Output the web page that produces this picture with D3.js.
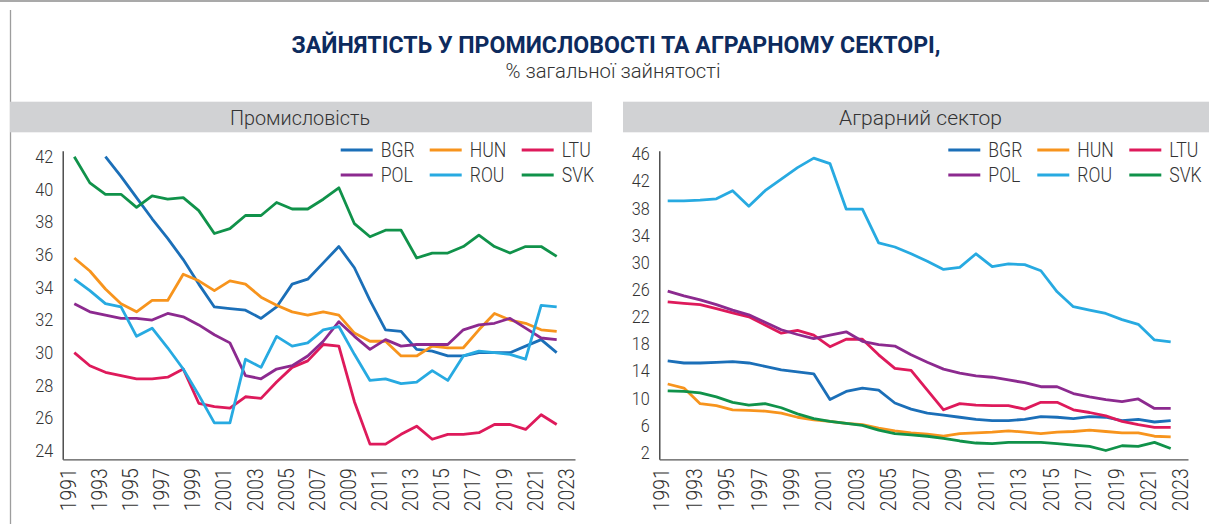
<!DOCTYPE html>
<html>
<head>
<meta charset="utf-8">
<script src="https://cdn.jsdelivr.net/npm/d3@7"></script>
<style>
  body { margin: 0; background: #fff; }
  svg { display: block; }
</style>
</head>
<body>
<svg id="chart" width="1209" height="524"></svg>
<script>
"use strict";

// data: % of total employment, 1991-2022 (axis runs to 2023)
var years = [1991, 1992, 1993, 1994, 1995, 1996, 1997, 1998, 1999, 2000, 2001, 2002, 2003, 2004, 2005, 2006,
             2007, 2008, 2009, 2010, 2011, 2012, 2013, 2014, 2015, 2016, 2017, 2018, 2019, 2020, 2021, 2022];
var tickYears = [1991, 1993, 1995, 1997, 1999, 2001, 2003, 2005, 2007, 2009, 2011, 2013, 2015, 2017, 2019, 2021, 2023];
var countries = ["BGR", "HUN", "LTU", "POL", "ROU", "SVK"];

var indBGR = [null, null, 42.0, 40.8, 39.5, 38.2, 37.0, 35.7, 34.2, 32.8, 32.7, 32.6, 32.1, 32.8, 34.2, 34.5,
              35.5, 36.5, 35.2, 33.2, 31.4, 31.3, 30.2, 30.1, 29.8, 29.8, 30.0, 30.0, 30.0, 30.4, 30.8, 30.0];
var indHUN = [35.8, 35.0, 33.9, 33.0, 32.5, 33.2, 33.2, 34.8, 34.4, 33.8, 34.4, 34.2, 33.4, 32.9, 32.5, 32.3,
              32.5, 32.3, 31.2, 30.7, 30.7, 29.8, 29.8, 30.4, 30.3, 30.3, 31.4, 32.4, 32.0, 31.8, 31.4, 31.3];
var indLTU = [30.0, 29.2, 28.8, 28.6, 28.4, 28.4, 28.5, 29.0, 26.9, 26.7, 26.6, 27.3, 27.2, 28.2, 29.1, 29.5,
              30.5, 30.4, 27.0, 24.4, 24.4, 25.0, 25.5, 24.7, 25.0, 25.0, 25.1, 25.6, 25.6, 25.3, 26.2, 25.6];
var indPOL = [33.0, 32.5, 32.3, 32.1, 32.1, 32.0, 32.4, 32.2, 31.7, 31.1, 30.6, 28.6, 28.4, 29.0, 29.2, 29.8,
              30.7, 31.9, 31.0, 30.2, 30.8, 30.4, 30.5, 30.5, 30.5, 31.4, 31.7, 31.8, 32.1, 31.5, 30.9, 30.8];
var indROU = [34.5, 33.8, 33.0, 32.8, 31.0, 31.5, 30.3, 29.0, 27.4, 25.7, 25.7, 29.6, 29.1, 31.0, 30.4, 30.6,
              31.4, 31.6, 29.9, 28.3, 28.4, 28.1, 28.2, 28.9, 28.3, 29.8, 30.1, 30.0, 29.9, 29.6, 32.9, 32.8];
var indSVK = [42.0, 40.4, 39.7, 39.7, 38.9, 39.6, 39.4, 39.5, 38.7, 37.3, 37.6, 38.4, 38.4, 39.2, 38.8, 38.8,
              39.4, 40.1, 37.9, 37.1, 37.5, 37.5, 35.8, 36.1, 36.1, 36.5, 37.2, 36.5, 36.1, 36.5, 36.5, 35.9];

var agrBGR = [15.5, 15.2, 15.2, 15.3, 15.4, 15.2, 14.7, 14.2, 13.9, 13.6, 9.8, 11.0, 11.5, 11.2, 9.3, 8.4,
              7.8, 7.5, 7.2, 6.9, 6.7, 6.7, 6.9, 7.3, 7.2, 7.0, 7.3, 7.2, 6.7, 6.9, 6.5, 6.7];
var agrHUN = [12.1, 11.5, 9.2, 8.9, 8.3, 8.2, 8.1, 7.8, 7.2, 6.8, 6.6, 6.3, 6.1, 5.6, 5.2, 4.9,
              4.7, 4.4, 4.8, 4.9, 5.0, 5.2, 5.0, 4.8, 5.0, 5.1, 5.3, 5.1, 4.9, 4.9, 4.4, 4.3];
var agrLTU = [24.2, 24.0, 23.8, 23.2, 22.6, 22.0, 20.8, 19.6, 20.0, 19.3, 17.6, 18.7, 18.7, 16.4, 14.4, 14.1,
              11.2, 8.3, 9.2, 9.0, 8.9, 8.9, 8.4, 9.4, 9.4, 8.3, 7.9, 7.4, 6.6, 6.1, 5.7, 5.7];
var agrPOL = [25.8, 25.1, 24.5, 23.8, 23.0, 22.3, 21.2, 20.1, 19.4, 18.8, 19.3, 19.8, 18.4, 17.9, 17.7, 16.4,
              15.3, 14.3, 13.7, 13.3, 13.1, 12.7, 12.3, 11.7, 11.7, 10.7, 10.2, 9.8, 9.5, 9.9, 8.5, 8.5];
var agrROU = [39.1, 39.1, 39.2, 39.4, 40.6, 38.3, 40.6, 42.3, 44.0, 45.4, 44.6, 37.9, 37.9, 32.9, 32.3, 31.3,
              30.2, 29.0, 29.3, 31.3, 29.4, 29.8, 29.7, 28.8, 25.7, 23.5, 23.0, 22.5, 21.6, 20.9, 18.6, 18.3];
var agrSVK = [11.1, 11.0, 10.8, 10.2, 9.4, 9.0, 9.2, 8.6, 7.7, 7.0, 6.6, 6.3, 6.0, 5.3, 4.8, 4.6,
              4.4, 4.1, 3.7, 3.4, 3.3, 3.5, 3.5, 3.5, 3.3, 3.1, 2.9, 2.3, 3.0, 2.9, 3.5, 2.6];

var indTicks = [24, 26, 28, 30, 32, 34, 36, 38, 40, 42];
var agrTicks = [2, 6, 10, 14, 18, 22, 26, 30, 34, 38, 42, 46];

var colors = ["#1b6fb8", "#f7941d", "#de1a5b", "#8c2a8f", "#27aae1", "#10924a"];
var font = "Roboto, 'Liberation Sans', sans-serif";

var panels = [
  { label: "Промисловість", series: [indBGR, indHUN, indLTU, indPOL, indROU, indSVK],
    bar: [10, 592], labelX: 300, labelW: 140, axisX: 62.7, axisEnd: 575, firstX: 74.3, lastX: 556.7,
    yDomain: [23.47, 42.37], yTicks: indTicks, legendX: 340.7 },
  { label: "Аграрний сектор", series: [agrBGR, agrHUN, agrLTU, agrPOL, agrROU, agrSVK],
    bar: [623, 1209], labelX: 920.5, labelW: 163, axisX: 659.3, axisEnd: 1188, firstX: 667.7, lastX: 1170.7,
    yDomain: [1, 46.5], yTicks: agrTicks, legendX: 948.3 }
];

var yTop = 150.7, yBottom = 459.3;

// squeeze glyphs horizontally to get the condensed look of the original
function condense(sel, k) {
  sel.each(function () {
    var w = this.getComputedTextLength();
    d3.select(this).attr("textLength", w * k).attr("lengthAdjust", "spacingAndGlyphs");
  });
}

var svg = d3.select("#chart");

// frame
svg.append("rect").attr("x", 0).attr("y", 0).attr("width", 1209).attr("height", 2).attr("fill", "#a9a9a9");
svg.append("line").attr("x1", 10.5).attr("x2", 10.5).attr("y1", 10).attr("y2", 524)
  .attr("stroke", "#9d9d9d").attr("stroke-width", 1.3);

// title
svg.append("text").attr("x", 616).attr("y", 53).attr("text-anchor", "middle")
  .attr("font-family", font).attr("font-weight", "bold").attr("font-size", 24.5)
  .attr("fill", "#0d2b5e").attr("textLength", 649).attr("lengthAdjust", "spacingAndGlyphs")
  .text("ЗАЙНЯТІСТЬ У ПРОМИСЛОВОСТІ ТА АГРАРНОМУ СЕКТОРІ,");
svg.append("text").attr("x", 613).attr("y", 77.5).attr("text-anchor", "middle")
  .attr("font-family", font).attr("font-weight", 300).attr("font-size", 20).attr("fill", "#333")
  .attr("textLength", 215).attr("lengthAdjust", "spacingAndGlyphs")
  .text("% загальної зайнятості");

panels.forEach(function (p) {
  var g = svg.append("g");

  g.append("rect").attr("x", p.bar[0]).attr("y", 101.7).attr("width", p.bar[1] - p.bar[0])
    .attr("height", 30.6).attr("fill", "#d1d2d4");
  g.append("text").attr("x", p.labelX).attr("y", 125).attr("text-anchor", "middle")
    .attr("font-family", font).attr("font-weight", 300).attr("font-size", 21).attr("fill", "#333")
    .attr("textLength", p.labelW).attr("lengthAdjust", "spacingAndGlyphs")
    .text(p.label);

  var x = d3.scaleLinear().domain([years[0], years[years.length - 1]]).range([p.firstX, p.lastX]);
  // same mapping, stretched to the drawn axis line
  var xAxisScale = x.copy().domain([x.invert(p.axisX), x.invert(p.axisEnd)]).range([p.axisX, p.axisEnd]);
  var y = d3.scaleLinear().domain(p.yDomain).range([yBottom, yTop]);

  var yAxis = g.append("g").attr("transform", "translate(" + p.axisX + ",0)")
    .call(d3.axisLeft(y).tickValues(p.yTicks).tickSize(0).tickPadding(9.5));
  yAxis.select(".domain").attr("stroke", "#333").attr("stroke-width", 1.3);
  yAxis.selectAll("text").attr("font-family", font).attr("font-weight", 300).attr("font-size", 18)
    .attr("fill", "#333").call(condense, 0.9);

  var xAxis = g.append("g").attr("transform", "translate(0," + yBottom + ")")
    .call(d3.axisBottom(xAxisScale).tickValues(tickYears).tickSize(0).tickFormat(d3.format("d")));
  xAxis.select(".domain").attr("stroke", "#555").attr("stroke-width", 1.3);
  xAxis.selectAll("text")
    .attr("transform", "rotate(-90)")
    .attr("x", -9).attr("y", 1).attr("dy", 0)
    .style("text-anchor", "end")
    .attr("font-family", font).attr("font-weight", 300).attr("font-size", 22).attr("fill", "#333")
    .call(condense, 0.88);

  var line = d3.line()
    .defined(function (d) { return d !== null; })
    .x(function (d, i) { return x(years[i]); })
    .y(function (d) { return y(d); });

  g.selectAll(".series").data(p.series).enter().append("path")
    .attr("class", "series")
    .attr("d", line)
    .attr("fill", "none")
    .attr("stroke", function (d, i) { return colors[i]; })
    .attr("stroke-width", 2.8)
    .attr("stroke-linejoin", "round");

  // legend, 3 columns x 2 rows
  var colOffset = [0, 89, 181];
  var legend = g.selectAll(".legend").data(countries).enter().append("g")
    .attr("class", "legend")
    .attr("transform", function (d, i) {
      return "translate(" + (p.legendX + colOffset[i % 3]) + "," + (150 + Math.floor(i / 3) * 25) + ")";
    });
  legend.append("line").attr("x1", 0).attr("x2", 32).attr("y1", 0).attr("y2", 0)
    .attr("stroke", function (d, i) { return colors[i]; }).attr("stroke-width", 3);
  legend.append("text").attr("x", 40).attr("y", 7)
    .attr("font-family", font).attr("font-weight", 300).attr("font-size", 20).attr("fill", "#333")
    .text(function (d) { return d; })
    .call(condense, 0.88);
});
</script>
</body>
</html>
